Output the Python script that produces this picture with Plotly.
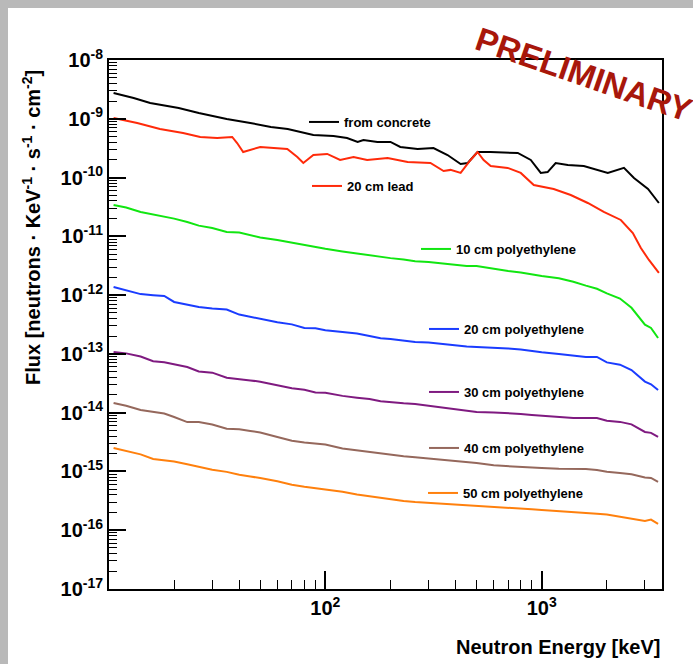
import plotly.graph_objects as go

# ---------------- data ----------------
E_concrete = [10.5, 13, 15.5, 21, 26, 35, 45, 56, 67, 88, 109, 126, 141, 150, 174, 200, 222, 267,
              316, 367, 422, 455, 505, 580, 775, 890, 990, 1065, 1160, 1320, 1565, 2020, 2400, 2670,
              3100, 3480]
F_concrete = [2.75e-9, 2.26e-9, 1.86e-9, 1.53e-9, 1.25e-9, 9.91e-10, 8.48e-10, 7.25e-10, 6.70e-10,
              5.30e-10, 5.09e-10, 4.71e-10, 4.03e-10, 4.36e-10, 4.03e-10, 4.03e-10, 3.31e-10, 3.06e-10,
              3.18e-10, 2.42e-10, 1.70e-10, 1.77e-10, 2.72e-10, 2.72e-10, 2.62e-10, 1.99e-10, 1.20e-10,
              1.24e-10, 1.77e-10, 1.64e-10, 1.57e-10, 1.20e-10, 1.46e-10, 9.83e-11, 6.39e-11, 3.69e-11]

E_lead = [10.5, 13.5, 17.2, 22, 26.4, 31.6, 37.1, 39.1, 41.7, 50, 66.7, 74.2, 79.1, 88, 102, 117, 135,
          156, 194, 240, 306, 352, 379, 422, 469, 505, 539, 581, 696, 800, 919, 1136, 1362, 1633, 1936,
          2321, 2638, 2873, 3130, 3480]
F_lead = [1.03e-9, 8.48e-10, 6.70e-10, 5.73e-10, 4.90e-10, 4.71e-10, 4.90e-10, 3.87e-10, 2.72e-10,
          3.31e-10, 3.06e-10, 2.24e-10, 1.77e-10, 2.42e-10, 2.52e-10, 1.99e-10, 2.24e-10, 1.99e-10,
          2.15e-10, 1.84e-10, 1.77e-10, 1.29e-10, 1.35e-10, 1.20e-10, 1.99e-10, 2.72e-10, 1.99e-10,
          1.57e-10, 1.46e-10, 1.20e-10, 7.47e-11, 6.39e-11, 5.05e-11, 3.69e-11, 2.60e-11, 1.90e-11,
          1.14e-11, 6.33e-12, 3.96e-12, 2.38e-12]

E_poly = [10.5, 12, 14, 16, 18, 20, 23, 26, 30, 35, 40, 45, 50, 60, 70, 80, 90, 100, 120, 140, 160,
          180, 200, 230, 260, 300, 350, 400, 450, 500, 600, 700, 800, 900, 1000, 1200, 1400, 1600,
          1800, 2000, 2300, 2600, 3000, 3200, 3450]

F_poly10 = [3.41e-11, 3.09e-11, 2.60e-11, 2.35e-11, 2.18e-11, 2.00e-11, 1.75e-11, 1.52e-11, 1.39e-11,
            1.19e-11, 1.16e-11, 1.05e-11, 9.56e-12, 8.66e-12, 7.79e-12, 7.12e-12, 6.51e-12, 6.14e-12,
            5.52e-12, 5.09e-12, 4.72e-12, 4.40e-12, 4.26e-12, 4.04e-12, 3.78e-12, 3.66e-12, 3.46e-12,
            3.28e-12, 3.13e-12, 3.13e-12, 2.78e-12, 2.58e-12, 2.43e-12, 2.23e-12, 2.11e-12, 1.93e-12,
            1.69e-12, 1.45e-12, 1.28e-12, 1.07e-12, 8.73e-13, 6.09e-13, 3.15e-13, 2.76e-13, 1.86e-13]

F_poly20 = [1.37e-12, 1.22e-12, 1.04e-12, 9.97e-13, 9.66e-13, 7.64e-13, 6.93e-13, 6.28e-13, 5.94e-13,
            5.67e-13, 4.66e-13, 4.24e-13, 3.92e-13, 3.45e-13, 3.18e-13, 2.76e-13, 2.72e-13, 2.53e-13,
            2.36e-13, 2.22e-13, 2.01e-13, 1.84e-13, 1.79e-13, 1.70e-13, 1.59e-13, 1.56e-13, 1.46e-13,
            1.37e-13, 1.34e-13, 1.31e-13, 1.28e-13, 1.24e-13, 1.19e-13, 1.12e-13, 1.07e-13, 1.00e-13,
            9.36e-14, 8.86e-14, 8.86e-14, 7.17e-14, 6.55e-14, 5.32e-14, 3.38e-14, 3.04e-14, 2.43e-14]

F_poly30 = [1.08e-13, 1.02e-13, 9.00e-14, 7.51e-14, 7.20e-14, 6.63e-14, 5.98e-14, 5.02e-14, 4.79e-14,
            3.92e-14, 3.77e-14, 3.54e-14, 3.37e-14, 2.96e-14, 2.60e-14, 2.46e-14, 2.20e-14, 2.18e-14,
            1.93e-14, 1.80e-14, 1.71e-14, 1.57e-14, 1.50e-14, 1.45e-14, 1.41e-14, 1.32e-14, 1.23e-14,
            1.17e-14, 1.09e-14, 1.03e-14, 1.01e-14, 9.88e-15, 9.50e-15, 9.17e-15, 8.88e-15, 8.38e-15,
            8.12e-15, 8.12e-15, 8.12e-15, 7.30e-15, 6.97e-15, 6.32e-15, 4.69e-15, 4.53e-15, 3.86e-15]

F_poly40 = [1.46e-14, 1.31e-14, 1.11e-14, 1.03e-14, 9.65e-15, 8.44e-15, 6.92e-15, 6.92e-15, 6.30e-15,
            5.32e-15, 5.22e-15, 4.88e-15, 4.60e-15, 3.86e-15, 3.34e-15, 3.10e-15, 2.97e-15, 2.87e-15,
            2.45e-15, 2.28e-15, 2.15e-15, 2.01e-15, 1.92e-15, 1.82e-15, 1.75e-15, 1.66e-15, 1.58e-15,
            1.51e-15, 1.46e-15, 1.39e-15, 1.27e-15, 1.22e-15, 1.18e-15, 1.15e-15, 1.14e-15, 1.11e-15,
            1.10e-15, 1.10e-15, 1.06e-15, 9.87e-16, 9.41e-16, 8.95e-16, 7.86e-16, 7.74e-16, 6.62e-16]

F_poly50 = [2.51e-15, 2.25e-15, 1.95e-15, 1.63e-15, 1.56e-15, 1.48e-15, 1.33e-15, 1.21e-15, 1.07e-15,
            9.83e-16, 8.77e-16, 8.18e-16, 7.74e-16, 6.80e-16, 5.95e-16, 5.50e-16, 5.19e-16, 4.99e-16,
            4.51e-16, 4.06e-16, 3.76e-16, 3.52e-16, 3.33e-16, 3.14e-16, 3.01e-16, 2.92e-16, 2.83e-16,
            2.75e-16, 2.69e-16, 2.64e-16, 2.52e-16, 2.43e-16, 2.34e-16, 2.27e-16, 2.21e-16, 2.09e-16,
            2.01e-16, 1.94e-16, 1.90e-16, 1.85e-16, 1.71e-16, 1.55e-16, 1.44e-16, 1.52e-16, 1.28e-16]

series_names = ["from concrete", "20 cm lead", "10 cm polyethylene", "20 cm polyethylene",
                "30 cm polyethylene", "40 cm polyethylene", "50 cm polyethylene"]
series_x = [E_concrete, E_lead, E_poly, E_poly, E_poly, E_poly, E_poly]
series_y = [F_concrete, F_lead, F_poly10, F_poly20, F_poly30, F_poly40, F_poly50]
series_colors = ["#000000", "#ff2a0a", "#11e611", "#1a3cff", "#7f1a80", "#95685c", "#ff800d"]

y_tick_exps = list(range(-17, -7))
x_tick_exps = [2, 3]

# ---------------- styling ----------------
FONT = "Liberation Sans"
W, H = 693, 664
ML, MR, MT, MB = 109, 31, 60, 75
PW, PH = W - ML - MR, H - MT - MB

def px_to_paper(px, py):
    return (px - ML) / PW, (H - MB - py) / PH

# legend placement (pixel positions of each entry)
legend_px = [(304, 122), (307, 186), (416, 249), (424, 329), (424, 392), (424, 448), (423, 493)]

fig = go.Figure()
for i, (nm, xs, ys, col) in enumerate(zip(series_names, series_x, series_y, series_colors)):
    lg = "legend" if i == 0 else f"legend{i+1}"
    fig.add_trace(go.Scatter(x=xs, y=ys, mode="lines", name=nm,
                             line=dict(color=col, width=2), legend=lg))

legend_layout = {}
for i, (lx, ly) in enumerate(legend_px):
    key = "legend" if i == 0 else f"legend{i+1}"
    x, y = px_to_paper(lx, ly)
    legend_layout[key] = dict(x=x, y=y, xanchor="left", yanchor="middle",
                              bgcolor="rgba(0,0,0,0)", borderwidth=0, itemwidth=30,
                              font=dict(family=FONT, size=13, color="black", weight="bold"))

y_minor = [m * 10.0 ** e for e in range(-17, -8) for m in range(2, 10)]
x_minor = [m * 10.0 ** e for e in (1, 2, 3) for m in range(2, 10) if m * 10.0 ** e < 3600]

fig.update_layout(
    width=W, height=H,
    margin=dict(l=ML, r=MR, t=MT, b=MB),
    paper_bgcolor="#b9b9b9",
    plot_bgcolor="white",
    showlegend=True,
    font=dict(family=FONT, color="black"),
    xaxis=dict(type="log", range=[1.0, 3.556], showgrid=False, zeroline=False,
               showline=True, linecolor="black", linewidth=2, mirror=True,
               ticks="inside", ticklen=18, tickwidth=1.5, tickcolor="black",
               tickmode="array", tickvals=[10.0 ** e for e in x_tick_exps],
               ticktext=[f"10<sup>{e}</sup>" for e in x_tick_exps],
               tickfont=dict(family=FONT, size=20, color="black", weight="bold"),
               minor=dict(ticks="inside", ticklen=9, tickwidth=1.2, tickcolor="black",
                          tickmode="array", tickvals=x_minor, showgrid=False)),
    yaxis=dict(type="log", range=[-17, -8], showgrid=False, zeroline=False,
               showline=True, linecolor="black", linewidth=2, mirror=True,
               ticks="inside", ticklen=17, tickwidth=1.5, tickcolor="black",
               tickmode="array", tickvals=[10.0 ** e for e in y_tick_exps],
               ticktext=[f"10<sup>{e}</sup>" for e in y_tick_exps],
               tickfont=dict(family=FONT, size=20, color="black", weight="bold"),
               minor=dict(ticks="inside", ticklen=8, tickwidth=1.2, tickcolor="black",
                          tickmode="array", tickvals=y_minor, showgrid=False)),
    **legend_layout,
)

# white panel over the grey frame
x0, y1 = px_to_paper(8, 8)
x1, y0 = px_to_paper(W + 20, H + 20)
fig.add_shape(type="rect", xref="paper", yref="paper", x0=x0, x1=x1, y0=y0, y1=y1,
              fillcolor="white", line=dict(width=0), layer="below")

# axis titles
tx, ty = px_to_paper(31, 228)
fig.add_annotation(xref="paper", yref="paper", x=tx, y=ty, showarrow=False, textangle=-90,
                   text="Flux [neutrons · KeV<sup>-1</sup> · s<sup>-1</sup> · cm<sup>-2</sup>]",
                   font=dict(family=FONT, size=20, color="black", weight="bold"),
                   xanchor="center", yanchor="middle")
_, xty = px_to_paper(0, 647)
fig.add_annotation(xref="paper", yref="paper", x=1.0, y=xty, showarrow=False,
                   text="Neutron Energy [keV]", xanchor="right", yanchor="middle",
                   font=dict(family=FONT, size=20, color="black", weight="bold"))

# PRELIMINARY stamp
px_, py_ = px_to_paper(584, 74)
fig.add_annotation(xref="paper", yref="paper", x=px_, y=py_, showarrow=False, textangle=19,
                   text="PRELIMINARY", xanchor="center", yanchor="middle",
                   font=dict(family=FONT, size=33, color="#a8170b", weight="bold"))

fig.write_html("out.html", config={"displayModeBar": False},
               post_script="document.body.style.margin='0px';document.body.style.overflow='hidden';")
